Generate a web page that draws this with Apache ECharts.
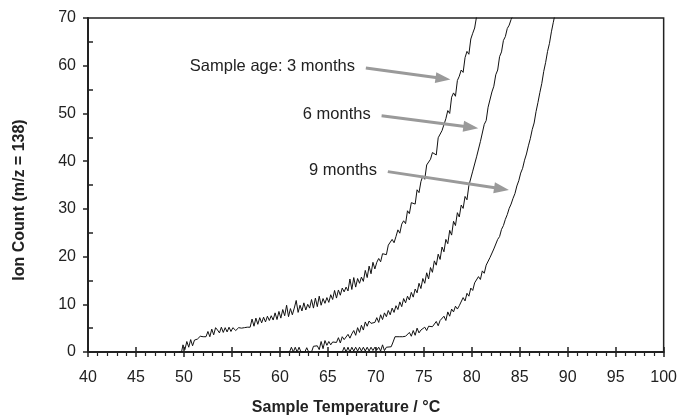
<!DOCTYPE html>
<html>
<head>
<meta charset="utf-8">
<script src="https://cdn.jsdelivr.net/npm/echarts@6/dist/echarts.min.js"></script>
<style>
  html, body { margin: 0; padding: 0; background: #fff; }
  #chart { width: 680px; height: 417px; }
</style>
</head>
<body>
<div id="chart"></div>
<script>
// Ion count (m/z = 138) versus sample temperature for three sample ages.
var ages = ['Sample age: 3 months', '6 months', '9 months'];

var months3 = [
  [49.5,0],[49.75,0],[49.9,1.5],[50.1,0.5],[50.3,2.2],[50.5,1.0],[50.7,2.6],[50.9,1.3],[51.1,2.5],[51.4,2.7],
  [51.7,3.3],[52.0,3.2],[52.3,3.2],[52.5,4.3],[52.7,3.2],[52.9,4.8],[53.1,3.6],[53.3,5.1],[53.5,4.6],[53.7,4.0],
  [53.9,5.2],[54.1,4.1],[54.3,5.1],[54.5,4.2],[54.7,5.2],[54.9,4.3],[55.1,5.1],[55.4,4.5],[55.7,5.1],[56.0,5.0],
  [56.3,5.1],[56.6,5.2],[56.9,5.2],[57.1,6.9],[57.3,5.4],[57.5,7.1],[57.7,5.8],[57.9,7.2],[58.1,6.1],[58.3,7.3],
  [58.5,6.3],[58.7,7.5],[58.9,6.6],[59.1,7.6],[59.3,6.7],[59.5,8.2],[59.7,6.8],[59.9,8.5],[60.1,7.1],[60.3,8.9],
  [60.5,7.6],[60.7,9.8],[60.9,7.4],[61.1,9.1],[61.3,7.8],[61.5,9.2],[61.7,10.8],[61.9,8.3],[62.1,9.8],[62.3,8.6],
  [62.5,10.3],[62.7,8.8],[62.9,10.0],[63.1,9.2],[63.3,11.0],[63.5,9.2],[63.7,11.3],[63.9,9.5],[64.1,11.7],[64.3,9.8],
  [64.5,11.2],[64.7,10.2],[64.9,11.4],[65.1,10.4],[65.3,12.0],[65.5,11.0],[65.7,12.9],[65.9,11.3],[66.1,13.0],[66.3,11.9],
  [66.5,13.4],[66.7,12.6],[66.9,13.6],[67.1,12.8],[67.3,15.3],[67.5,13.1],[67.7,15.6],[67.9,13.6],[68.1,15.4],[68.3,14.4],
  [68.5,15.7],[68.7,14.8],[68.9,17.1],[69.1,15.6],[69.3,18.0],[69.5,16.4],[69.7,18.8],[69.9,17.4],
  [70.1,18.8],[70.3,19.6],[70.5,18.9],[70.7,20.6],[70.9,21.0],[71.1,20.4],[71.3,22.4],[71.5,22.0],[71.7,23.6],[71.9,22.9],
  [72.1,24.2],[72.3,25.6],[72.5,24.9],[72.7,26.8],[72.9,27.5],[73.1,26.9],[73.3,29.6],[73.5,29.0],[73.7,31.3],[73.9,31.6],
  [74.1,31.0],[74.3,34.0],[74.5,33.4],[74.7,35.7],[74.9,36.9],[75.1,36.2],[75.3,39.2],[75.5,39.6],[75.7,40.4],[75.9,41.8],
  [76.1,42.0],[76.3,41.3],[76.5,44.9],[76.7,45.3],[76.9,46.4],[77.1,46.0],[77.3,48.9],[77.5,50.6],[77.7,50.0],[77.9,53.4],
  [78.1,54.3],[78.3,53.6],[78.5,56.9],[78.7,57.8],[78.9,59.1],[79.1,58.6],[79.3,61.7],[79.5,63.0],[79.7,62.4],[79.9,65.6],
  [80.1,66.8],[80.3,67.9],[80.5,70.3]
];

var months6 = [
  [60.0,0],[61.0,0],[61.2,1.0],[61.4,0],[61.6,1.0],[61.8,0],[62.0,1.0],[62.2,0],[62.6,0],[62.8,0.9],
  [63.0,0],[63.3,0],[63.5,1.2],[63.7,1.1],[63.9,1.3],[64.1,0.5],[64.3,2.2],[64.5,0.7],[64.7,2.4],[64.9,1.4],
  [65.1,2.2],[65.3,1.5],[65.5,2.1],[65.7,1.9],[65.9,2.0],[66.1,3.0],[66.3,1.9],[66.5,3.2],[66.7,2.6],[66.9,2.8],
  [67.1,3.7],[67.3,2.9],[67.5,3.8],[67.7,4.5],[67.9,3.5],[68.1,5.1],[68.3,4.1],[68.5,5.6],[68.7,4.6],[68.9,6.3],
  [69.1,5.4],[69.3,6.5],[69.5,6.0],[69.7,6.2],[69.9,6.2],[70.1,7.2],[70.3,6.2],[70.5,7.8],[70.7,6.8],[70.9,8.2],
  [71.1,7.4],[71.3,8.7],[71.5,7.8],[71.7,9.2],[71.9,8.3],[72.1,9.7],[72.3,8.9],[72.5,10.5],[72.7,9.5],[72.9,11.2],
  [73.1,10.3],[73.3,11.7],[73.5,10.9],[73.7,12.5],[73.9,11.5],[74.1,13.2],[74.3,12.4],[74.5,14.4],[74.7,13.3],[74.9,15.4],
  [75.1,14.4],[75.3,16.6],[75.5,15.3],[75.7,17.7],[75.9,16.7],[76.1,19.1],[76.3,18.2],[76.5,20.5],[76.7,19.4],[76.9,22.0],
  [77.1,21.0],[77.3,23.6],[77.5,22.7],[77.7,25.5],[77.9,24.5],[78.1,27.4],[78.3,26.5],[78.5,29.2],[78.7,28.3],[78.9,30.8],
  [79.1,30.1],[79.3,32.6],[79.5,31.9],[79.7,34.9],[79.9,34.5],[80.1,37.9],[80.3,37.5],[80.5,40.9],[80.7,40.8],[80.9,44.1],
  [81.1,44.5],[81.3,47.7],[81.5,48.5],[81.7,51.3],[81.9,51.7],[82.1,54.5],[82.3,55.7],[82.5,58.1],[82.7,59.1],[82.9,61.9],
  [83.1,62.9],[83.3,65.3],[83.5,66.1],[83.7,67.8],[83.9,68.5],[84.1,69.7],[84.3,70.5]
];

var months9 = [
  [64.0,0],[66.5,0],[66.7,1.0],[66.9,0],[67.1,1.0],[67.3,0],[67.5,1.0],[67.7,0.2],[67.9,1.0],[68.1,0.2],
  [68.3,1.0],[68.5,0.2],[68.7,1.0],[68.9,0.2],[69.1,1.0],[69.3,0.2],[69.5,1.0],[69.7,0.3],[69.9,1.0],[70.1,0.4],
  [70.3,1.0],[70.5,0.2],[70.7,1.5],[70.9,0.3],[71.1,1.0],[71.3,1.0],[71.6,1.1],[71.8,2.1],[72.0,3.2],[72.2,3.0],
  [72.5,3.2],[72.8,3.2],[73.1,3.3],[73.3,3.2],[73.5,4.1],[73.7,3.3],[73.9,4.5],[74.1,3.5],[74.3,5.0],[74.5,4.0],
  [74.7,4.6],[74.9,4.4],[75.1,5.2],[75.3,4.5],[75.5,5.4],[75.7,5.3],[75.9,5.3],[76.1,5.4],[76.3,6.4],[76.5,5.5],
  [76.7,6.6],[76.9,6.2],[77.1,7.5],[77.3,6.6],[77.5,8.4],[77.7,7.5],[77.9,9.0],[78.1,8.4],[78.3,9.6],[78.5,9.0],
  [78.7,9.7],[78.9,10.0],[79.1,11.4],[79.3,10.7],[79.5,12.3],[79.7,11.7],[79.9,13.4],[80.1,12.9],[80.3,14.5],[80.5,14.1],
  [80.7,15.8],[80.9,15.2],[81.1,17.0],[81.3,16.5],[81.5,18.2],[81.7,18.1],[81.9,19.8],[82.1,19.9],[82.3,21.6],[82.5,22.0],
  [82.7,23.6],[82.9,24.2],[83.1,25.7],[83.3,26.5],[83.5,27.8],[83.7,28.8],[83.9,30.1],[84.1,31.0],[84.3,32.2],[84.5,33.2],
  [84.7,34.8],[84.9,35.9],[85.1,37.5],[85.3,38.5],[85.5,40.2],[85.7,41.5],[85.9,43.2],[86.1,44.7],[86.3,46.6],[86.5,48.0],
  [86.7,50.4],[86.9,52.3],[87.1,54.4],[87.3,56.3],[87.5,58.8],[87.7,60.7],[87.9,63.0],[88.1,64.7],[88.3,67.1],[88.5,69.1],
  [88.7,71.0]
];

// Callout arrows (data coordinates): where each label sits and where its arrow points.
var calloutStart = [[68.96, 59.5], [70.6, 49.5], [71.25, 37.8]];
var calloutEnd = [[77.0, 57.3], [79.9, 47.1], [83.1, 34.2]];

var FONT = '"Liberation Sans", Arial, Helvetica, sans-serif';
var INK = '#222';

var chart = echarts.init(document.getElementById('chart'), null, { renderer: 'canvas' });

var calloutLines = ages.map(function (txt, i) {
  return [
    { coord: calloutStart[i], label: { formatter: txt } },
    { coord: calloutEnd[i] }
  ];
});

function curve(name, data, withCallouts) {
  var s = {
    name: name,
    type: 'line',
    data: data,
    xAxisIndex: 0,
    yAxisIndex: 0,
    showSymbol: false,
    symbol: 'none',
    smooth: false,
    animation: false,
    clip: true,
    lineStyle: { color: '#111', width: 1 },
    z: 3
  };
  if (withCallouts) {
    s.markLine = {
      silent: true,
      animation: false,
      symbol: ['none', 'triangle'],
      symbolSize: [11, 15],
      lineStyle: { type: 'solid', color: '#9a9a9a', width: 3 },
      label: {
        show: true,
        position: 'start',
        distance: 11,
        color: INK,
        fontFamily: FONT,
        fontSize: 16.5
      },
      data: calloutLines,
      z: 4
    };
  }
  return s;
}

var option = {
  backgroundColor: '#fff',
  animation: false,
  grid: {
    left: 88, right: 16, top: 18, bottom: 65,
    show: true,
    borderColor: INK,
    borderWidth: 1.5,
    backgroundColor: 'transparent'
  },
  xAxis: [
    {
      type: 'value', min: 40, max: 100, interval: 5, position: 'bottom',
      axisLine: { show: true, onZero: false, lineStyle: { color: INK, width: 2 } },
      axisTick: { show: true, length: 5, lineStyle: { color: INK, width: 1.5 } },
      minorTick: { show: true, splitNumber: 5, length: 4, lineStyle: { color: INK, width: 1.2 } },
      axisLabel: { margin: 18, color: INK, fontFamily: FONT, fontSize: 16 },
      splitLine: { show: false }
    },
    {
      type: 'value', min: 40, max: 100, interval: 5, position: 'bottom', gridIndex: 0,
      axisLine: { show: false, onZero: false },
      axisTick: { show: true, inside: true, length: 5, lineStyle: { color: INK, width: 1.5 } },
      axisLabel: { show: false },
      splitLine: { show: false }
    }
  ],
  yAxis: [
    {
      type: 'value', min: 0, max: 70, interval: 10, position: 'left',
      axisLine: { show: true, onZero: false, lineStyle: { color: INK, width: 2 } },
      axisTick: { show: true, length: 5, lineStyle: { color: INK, width: 1.5 } },
      axisLabel: { margin: 12, color: INK, fontFamily: FONT, fontSize: 16 },
      splitLine: { show: false }
    },
    {
      type: 'value', min: 0, max: 70, interval: 10, position: 'left', gridIndex: 0,
      axisLine: { show: false, onZero: false },
      axisTick: { show: false, inside: true },
      minorTick: { show: true, splitNumber: 2, length: 5, lineStyle: { color: INK, width: 1.5 } },
      axisLabel: { show: false },
      splitLine: { show: false }
    }
  ],
  graphic: [
    {
      type: 'text',
      x: 346, y: 408,
      style: {
        text: 'Sample Temperature / °C',
        fill: INK,
        font: 'bold 16px ' + FONT,
        textAlign: 'center',
        textVerticalAlign: 'middle'
      }
    },
    {
      type: 'text',
      x: 20, y: 200,
      rotation: Math.PI / 2,
      style: {
        text: 'Ion Count (m/z = 138)',
        fill: INK,
        font: 'bold 16px ' + FONT,
        textAlign: 'center',
        textVerticalAlign: 'middle'
      }
    }
  ],
  series: [
    curve(ages[0], months3, true),
    curve(ages[1], months6, false),
    curve(ages[2], months9, false)
  ]
};

chart.setOption(option);
</script>
</body>
</html>
